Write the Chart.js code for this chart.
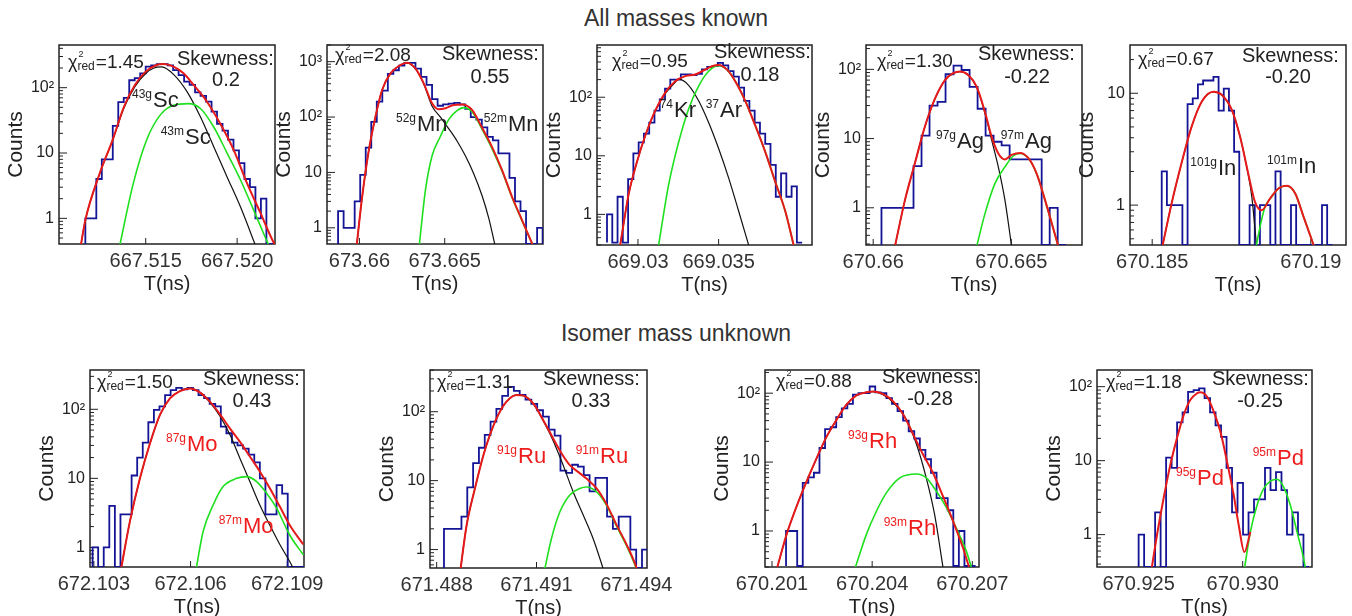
<!DOCTYPE html>
<html lang="en">
<head>
<meta charset="utf-8" />
<title>TOF spectra</title>
<script src="https://cdnjs.cloudflare.com/ajax/libs/Chart.js/4.4.0/chart.umd.js"></script>
<style>
    html, body { margin: 0; padding: 0; background: #fff; overflow: hidden; }
    body { width: 1352px; height: 616px; position: relative; font-family: "Liberation Sans", Arial, sans-serif; }
    .title { position: absolute; left: 0; width: 1352px; text-align: center; font-size: 23px; color: #333; }
    canvas { position: absolute; }
</style>
</head>
<body>
<div class="title" style="top:5px">All masses known</div>
<div class="title" style="top:320px">Isomer mass unknown</div>
<script>
    // counts per bin, fit curves read as [T, counts]
    const scCounts = [1,1,4,8,8,26,60,70,130,140,165,210,220,230,230,220,186,156,124,110,85,75,61,43,28,22,16,11,7,4,3,1,2,0,0];
    const scRed = [[667.51139,0.3],[667.5117,0.94],[667.51249,4.9],[667.51319,15.8],[667.51381,51],[667.51441,110],[667.515,176],[667.5156,222],[667.51597,230],[667.51652,210],[667.51707,166],[667.51762,110],[667.51835,61],[667.51908,28],[667.51982,11],[667.52055,3.4],[667.52128,1.2],[667.52192,0.47],[667.5221,0.38]];
    const scBlack = [[667.51139,0.3],[667.5117,0.94],[667.51249,4.9],[667.51319,15.6],[667.51381,49],[667.51441,104],[667.515,165],[667.51545,200],[667.51588,208],[667.51652,160],[667.51725,88],[667.51799,36],[667.51872,12.5],[667.51945,4.3],[667.52018,1.5],[667.52106,0.35]];
    const scGreen = [[667.5135,0.3],[667.51432,3.4],[667.51505,15.8],[667.51579,38],[667.51652,54],[667.51734,57],[667.51799,48],[667.51872,25],[667.51945,10],[667.52018,3.9],[667.52092,1.3],[667.52179,0.35]];

    const mnCounts = [2,1,1,3,9,28,82,190,300,600,700,850,950,950,750,530,380,210,160,170,175,180,170,140,100,90,65,44,38,22,22,8,3,2,0,0,1];
    const mnRed = [[673.65981,0.4],[673.66016,3.6],[673.66055,25],[673.66094,101],[673.66133,308],[673.66182,615],[673.66231,835],[673.66279,960],[673.66328,755],[673.66377,405],[673.66426,177],[673.66465,138],[673.66504,144],[673.66553,165],[673.66602,169],[673.6666,135],[673.66719,64],[673.66777,29],[673.66836,11],[673.66895,3.6],[673.66953,1.38],[673.67021,0.45]];
    const mnBlack = [[673.65981,0.4],[673.66016,3.6],[673.66055,25],[673.66094,101],[673.66133,308],[673.66182,615],[673.66231,835],[673.66279,955],[673.66328,745],[673.66377,395],[673.66426,157],[673.66475,100],[673.66523,62],[673.66572,37],[673.66621,20],[673.6667,9.5],[673.66719,3.8],[673.66758,1.5],[673.66797,0.45]];
    const mnGreen = [[673.66348,0.4],[673.66387,4.8],[673.66426,20],[673.66475,45],[673.66523,90],[673.66572,130],[673.66611,148],[673.6666,125],[673.66719,60],[673.66777,27],[673.66836,10.5],[673.66895,3.5],[673.66953,1.35],[673.67021,0.45]];

    const krCounts = [1,0,2,0,4,11,17,24,37,59,92,140,200,200,245,245,240,250,300,330,340,385,350,280,225,146,87,59,37,24,16,7,2,5,2,3,0];
    const krRed = [[669.0289,0.3],[669.02942,2.2],[669.02994,7.9],[669.03045,22],[669.03107,59],[669.03169,120],[669.03231,188],[669.03293,229],[669.03355,245],[669.03397,278],[669.03459,338],[669.035,355],[669.03552,296],[669.03603,188],[669.03665,87],[669.03727,33],[669.03789,11.7],[669.03851,3.6],[669.03913,1.14],[669.03965,0.3]];
    const krBlack = [[669.0289,0.3],[669.02942,2.2],[669.02994,7.9],[669.03045,22],[669.03107,58],[669.03169,115],[669.03231,180],[669.03252,204],[669.03314,160],[669.03376,87],[669.03438,37],[669.035,13.3],[669.03562,4.2],[669.03624,1.14],[669.03686,0.3]];
    const krGreen = [[669.03128,0.3],[669.0319,3.2],[669.03252,17],[669.03314,63],[669.03376,155],[669.03438,278],[669.035,346],[669.03552,296],[669.03603,188],[669.03665,87],[669.03727,33],[669.03789,11.7],[669.03851,3.6],[669.03913,1.14],[669.03965,0.3]];

    const agCounts = [1,1,1,1,4,11,30,34,85,113,98,56,27,11,9,8,5,5,5,5,0,1,0];
    const agRed = [[670.66079,0.28],[670.66115,1.29],[670.66151,4.4],[670.66187,14.8],[670.66224,38],[670.6626,70],[670.6629,88],[670.66314,93],[670.66344,83],[670.66375,56],[670.66405,24],[670.66429,10.6],[670.66453,6.1],[670.66477,5],[670.66501,5.8],[670.66532,6.2],[670.66562,5.2],[670.66592,3.1],[670.66622,1.3],[670.66652,0.5],[670.6667,0.28]];
    const agBlack = [[670.66079,0.28],[670.66115,1.29],[670.66151,4.4],[670.66187,14.8],[670.66224,38],[670.6626,70],[670.6629,88],[670.66314,93],[670.66344,83],[670.66375,55],[670.66405,23],[670.66429,9.5],[670.66453,3.9],[670.66477,1.29],[670.66501,0.28]];
    const agGreen = [[670.66375,0.28],[670.66405,0.83],[670.66441,2.25],[670.66477,3.9],[670.66507,5.6],[670.66532,6.1],[670.66562,5.2],[670.66592,3.1],[670.66622,1.3],[670.66652,0.5],[670.6667,0.28]];

    const inCounts = [2,1,1,1,0,8,9,12,13,13,14,7,11,7,3,0,0,1,0,1,1,0,2,0,0,1,0,0,0,0,0,1,0];
    const inRed = [[670.1853,0.4],[670.18561,1.03],[670.18593,2.4],[670.18624,5],[670.18656,8.4],[670.18693,10.3],[670.18719,9.7],[670.18751,7.1],[670.18777,4.1],[670.18803,1.9],[670.18824,1.07],[670.18845,0.9],[670.18872,1.15],[670.18898,1.41],[670.18924,1.49],[670.18951,1.27],[670.18977,0.79],[670.19014,0.4]];
    const inBlack = [[670.1853,0.4],[670.18561,1.03],[670.18593,2.4],[670.18624,5],[670.18656,8.4],[670.18693,10.3],[670.18719,9.7],[670.18751,7.1],[670.18777,4.1],[670.18803,1.85],[670.18814,1.19],[670.1883,0.4]];
    const inGreen = [[670.18826,0.4],[670.1884,0.64],[670.18856,0.97],[670.18877,1.19],[670.18898,1.41],[670.18924,1.49],[670.18951,1.27],[670.18977,0.79],[670.19014,0.4]];

    const moCounts = [1,0,1,4,0,3,3,11,20,33,65,98,110,160,190,205,195,205,190,160,145,120,110,56,45,33,30,27,22,17,10,3,3,8,6,0,0,0];
    const moRed = [[672.10383,0.45],[672.10412,2.4],[672.10443,10],[672.10474,32],[672.10505,83],[672.10536,144],[672.10567,184],[672.10598,201],[672.10629,176],[672.1066,129],[672.10691,85],[672.10722,53],[672.10753,34],[672.10784,20.7],[672.10815,12.6],[672.10846,7.2],[672.10877,3.9],[672.10908,2.1],[672.1095,1.1]];
    const moBlack = [[672.10383,0.45],[672.10412,2.4],[672.10443,10],[672.10474,32],[672.10505,83],[672.10536,144],[672.10567,184],[672.10598,201],[672.10629,175],[672.1066,126],[672.10691,80],[672.10722,43],[672.10753,19.6],[672.10784,9],[672.10815,4.1],[672.10846,2.1],[672.10877,1.1],[672.10913,0.56],[672.10922,0.45]];
    const moGreen = [[672.10616,0.45],[672.10639,1.7],[672.1067,4.1],[672.10701,7.6],[672.10743,10],[672.10774,10.6],[672.10805,9],[672.10836,6.1],[672.10867,3.7],[672.10908,1.5],[672.1095,0.78]];

    const ruCounts = [2,2,2,3,8,18,30,46,72,110,170,230,200,175,150,130,105,85,55,45,14,13,17,16,12,7,11,11,3,2,3,3,1,0,1];
    const ruRed = [[671.4887,0.45],[671.4889,2.25],[671.48915,7.7],[671.4894,23],[671.4896,46],[671.48985,90],[671.4901,140],[671.4904,175],[671.4906,171],[671.4909,132],[671.4912,76],[671.4915,41],[671.49175,25],[671.492,16.8],[671.49225,13.4],[671.4925,10.7],[671.4928,7.8],[671.4931,4.6],[671.4934,2.3],[671.4937,1.2],[671.494,0.55],[671.49405,0.45]];
    const ruBlack = [[671.4887,0.45],[671.4889,2.25],[671.48915,7.7],[671.4894,23],[671.4896,46],[671.48985,90],[671.4901,140],[671.4904,175],[671.4906,171],[671.4909,131],[671.4912,74],[671.4915,38],[671.4918,16.8],[671.4921,6.9],[671.4924,3.2],[671.4927,1.45],[671.49305,0.45]];
    const ruGreen = [[671.49122,0.45],[671.49145,1.45],[671.4917,3.5],[671.492,6.2],[671.4923,7.7],[671.4925,8.1],[671.4928,6.9],[671.4931,4.4],[671.4934,2.2],[671.4937,1.15],[671.494,0.53],[671.49405,0.45]];

    const rhCounts = [1,1,0,5,6,7,16,30,32,45,60,70,95,100,100,125,103,100,85,70,55,40,28,22,15,11,7,3,3,2,0,1,0,0];
    const rhRed = [[670.20116,0.3],[670.20144,0.9],[670.20174,2.3],[670.20204,5.3],[670.20234,11.5],[670.20264,23.6],[670.20293,41],[670.20323,68],[670.20353,93],[670.20383,103],[670.20403,106],[670.20433,97],[670.20463,76],[670.20493,49],[670.20523,25],[670.20552,13],[670.20582,7],[670.20612,3.2],[670.20642,1.4],[670.20672,0.57],[670.2069,0.3]];
    const rhBlack = [[670.20116,0.3],[670.20144,0.9],[670.20174,2.3],[670.20204,5.3],[670.20234,11.5],[670.20264,23.6],[670.20293,41],[670.20323,68],[670.20353,93],[670.20383,103],[670.20403,105],[670.20433,95],[670.20463,73],[670.20503,41],[670.20533,18],[670.20562,5.9],[670.20587,1.74],[670.20612,0.3]];
    const rhGreen = [[670.2035,0.3],[670.20383,0.9],[670.20413,1.95],[670.20443,3.6],[670.20483,5.9],[670.20533,6.7],[670.20562,5.9],[670.20592,3.8],[670.20622,2.2],[670.20652,1.1],[670.20682,0.51],[670.20697,0.3]];

    const pdCounts = [1,0,0,2,0,11,8,33,45,85,90,95,70,45,30,21,8,2,5,1,2,3,3,8,4,7,4,1,2,1,0];
    const pdRed = [[670.92559,0.3],[670.92588,0.98],[670.9262,3.1],[670.92652,8.7],[670.92684,20],[670.92716,41],[670.92748,66],[670.9278,81],[670.92796,84],[670.92829,73],[670.92861,46],[670.92893,24.5],[670.92925,9.6],[670.92957,3.4],[670.92981,1.34],[670.93008,0.58],[670.93037,1.09]];
    const pdGreen = [[670.93005,0.3],[670.93037,1.09],[670.93069,2.5],[670.93101,4.2],[670.93133,5.3],[670.93165,5.6],[670.93197,4.4],[670.93229,2.5],[670.93261,1.09],[670.93293,0.47],[670.93306,0.3]];

    // axis ticks and texts
    const xTicks = [[667.515, 667.52], [673.66, 673.665], [669.03, 669.035], [670.66, 670.665], [670.185, 670.19],
                    [672.103, 672.106, 672.109], [671.488, 671.491, 671.494], [670.201, 670.204, 670.207], [670.925, 670.93]];
    const xTickLabels = [['667.515', '667.520'], ['673.66', '673.665'], ['669.03', '669.035'], ['670.66', '670.665'], ['670.185', '670.19'],
                         ['672.103', '672.106', '672.109'], ['671.488', '671.491', '671.494'], ['670.201', '670.204', '670.207'], ['670.925', '670.930']];
    const chiValues = ['1.45', '2.08', '0.95', '1.30', '0.67', '1.50', '1.31', '0.88', '1.18'];
    const skewValues = ['0.2', '0.55', '0.18', '-0.22', '-0.20', '0.43', '0.33', '-0.28', '-0.25'];
    const isoLabels = [[['43g', 'Sc'], ['43m', 'Sc']], [['52g', 'Mn'], ['52m', 'Mn']], [['74', 'Kr'], ['37', 'Ar']],
                       [['97g', 'Ag'], ['97m', 'Ag']], [['101g', 'In'], ['101m', 'In']], [['87g', 'Mo'], ['87m', 'Mo']],
                       [['91g', 'Ru'], ['91m', 'Ru']], [['93g', 'Rh'], ['93m', 'Rh']], [['95g', 'Pd'], ['95m', 'Pd']]];

    const FONT = '"Liberation Sans", Arial, sans-serif';
    const PAD = { left: 60, top: 20, right: 45, bottom: 52 };

    // box = plot frame in page px; text positions are offsets inside the frame
    const panels = [
        { box: [59, 45, 275, 244], x: [667.51026, 667.52207], y: [0.405, 450], hist: [667.5117, 0.0003], counts: scCounts, red: scRed, black: scBlack, green: scGreen,
          chi: [9, 23], skew: [118, 20], val: [167, 41], iso: [[94, 62], [126, 99]] },
        { box: [327, 45, 543, 244], x: [673.6581, 673.67076], y: [0.51, 2000], hist: [673.65875, 0.000324], counts: mnCounts, red: mnRed, black: mnBlack, green: mnGreen,
          chi: [8, 16], skew: [115, 15], val: [163, 38], iso: [[90, 86], [181, 86]] },
        { box: [597, 45, 812, 245], x: [669.02746, 669.04079], y: [0.33, 780], hist: [669.02808, 0.000327], counts: krCounts, red: krRed, black: krBlack, green: krGreen,
          chi: [15, 22], skew: [117, 13], val: [163, 36], iso: [[77, 72], [123, 72]] },
        { box: [866, 45, 1082, 245], x: [670.65974, 670.66756], y: [0.29, 225], hist: [670.6603, 0.00029], counts: agCounts, red: agRed, black: agBlack, green: agGreen,
          chi: [11, 22], skew: [112, 15], val: [161, 38], iso: [[91, 103], [159, 103]] },
        { box: [1130, 45, 1346, 245], x: [670.1843, 670.19111], y: [0.44, 27], hist: [670.1853, 0.000163], counts: inCounts, red: inRed, black: inBlack, green: inGreen,
          chi: [8, 20], skew: [112, 17], val: [158, 38], iso: [[88, 130], [168, 128]] },
        { box: [90, 370, 304, 567], x: [672.10288, 672.10952], y: [0.52, 371], hist: [672.10296, 0.000173], counts: moCounts, red: moRed, black: moBlack, green: moGreen,
          chi: [7, 18], skew: [113, 15], val: [162, 37], iso: [[97, 81], [153, 163]] },
        { box: [430, 370, 647, 568], x: [671.4878, 671.49432], y: [0.54, 403], hist: [671.48822, 0.000175], counts: ruCounts, red: ruRed, black: ruBlack, green: ruGreen,
          chi: [7, 18], skew: [113, 15], val: [161, 37], iso: [[88, 93], [170, 93]] },
        { box: [765, 370, 979, 567], x: [670.20079, 670.2072], y: [0.31, 217], hist: [670.20142, 0.000167], counts: rhCounts, red: rhRed, black: rhBlack, green: rhGreen,
          chi: [11, 17], skew: [117, 13], val: [165, 35], iso: [[104, 78], [143, 165]] },
        { box: [1097, 370, 1312, 567], x: [670.923, 670.93333], y: [0.365, 168], hist: [670.925, 0.000264], counts: pdCounts, red: pdRed, black: null, green: pdGreen,
          chi: [9, 18], skew: [115, 15], val: [163, 37], iso: [[100, 115], [180, 95]] }
    ];

    function xy(pairs) {
        return pairs.map(p => ({ x: p[0], y: p[1] }));
    }

    // step outline of the histogram; empty bins sit on the axis floor
    function histPoints(start, width, counts, floor) {
        const pts = [{ x: start, y: floor }];
        counts.forEach((c, i) => pts.push({ x: start + i * width, y: c > 0 ? c : floor }));
        pts.push({ x: start + counts.length * width, y: floor });
        return pts;
    }

    function curve(data, color, width) {
        return { data: xy(data), borderColor: color, borderWidth: width, pointRadius: 0,
                 cubicInterpolationMode: 'monotone', fill: false, clip: 0 };
    }

    function decades(range) {
        const out = [];
        for (let e = -1; e <= 4; e++) {
            const v = Math.pow(10, e);
            if (v >= range[0] && v <= range[1]) out.push(v);
        }
        return out;
    }

    const yNames = { 1: '1', 10: '10', 100: '10\u00b2', 1000: '10\u00b3' };

    panels.forEach((p, n) => {
        const [l, t, r, b] = p.box;
        const canvas = document.createElement('canvas');
        canvas.width = r - l + PAD.left + PAD.right;
        canvas.height = b - t + PAD.top + PAD.bottom;
        canvas.style.left = (l - PAD.left) + 'px';
        canvas.style.top = (t - PAD.top) + 'px';
        document.body.appendChild(canvas);

        const isoColor = n < 5 ? '#222' : '#ee1c1c';
        const datasets = [curve(p.red, '#e61a1a', 2)];
        datasets.push(curve(p.green, '#1ee01e', 1.6));
        if (p.black) datasets.push(curve(p.black, '#111', 1.2));
        datasets.push({
            data: histPoints(p.hist[0], p.hist[1], p.counts, p.y[0]),
            stepped: 'before', borderColor: '#141496', borderWidth: 1.8, pointRadius: 0, fill: false, clip: 0
        });

        const deco = {
            id: 'deco' + n,
            beforeDatasetsDraw(chart) {
                const { ctx, chartArea: a, scales: { x, y } } = chart;
                ctx.save();
                ctx.strokeStyle = '#222';
                ctx.lineWidth = 1.5;
                ctx.strokeRect(a.left, a.top, a.right - a.left, a.bottom - a.top);
                ctx.lineWidth = 1;
                ctx.beginPath();
                xTicks[n].forEach(v => {
                    const px = x.getPixelForValue(v);
                    ctx.moveTo(px, a.bottom);
                    ctx.lineTo(px, a.bottom - 6);
                });
                for (let d = 0.1; d <= y.max; d *= 10) {
                    for (let k = 1; k < 10; k++) {
                        const v = k * d;
                        if (v < y.min || v > y.max) continue;
                        const py = y.getPixelForValue(v);
                        ctx.moveTo(a.left, py);
                        ctx.lineTo(a.left + (k === 1 ? 8 : 4), py);
                    }
                }
                ctx.stroke();
                ctx.restore();
            },
            afterDraw(chart) {
                const { ctx, chartArea: a } = chart;
                ctx.save();
                ctx.fillStyle = '#222';
                ctx.textBaseline = 'alphabetic';
                ctx.textAlign = 'left';

                // chi^2_red
                const cx = a.left + p.chi[0], cy = a.top + p.chi[1];
                ctx.font = '18px ' + FONT;
                ctx.fillText('\u03c7', cx, cy);
                let w = ctx.measureText('\u03c7').width;
                ctx.font = '9px ' + FONT;
                ctx.fillText('2', cx + w + 1, cy - 11);
                ctx.font = '12px ' + FONT;
                ctx.fillText('red', cx + w, cy + 2);
                w += ctx.measureText('red').width;
                ctx.font = '19px ' + FONT;
                ctx.fillText('=' + chiValues[n], cx + w + 1, cy);

                // skewness
                ctx.font = '20px ' + FONT;
                ctx.fillText('Skewness:', a.left + p.skew[0], a.top + p.skew[1]);
                ctx.textAlign = 'center';
                ctx.fillText(skewValues[n], a.left + p.val[0], a.top + p.val[1]);

                // isotope names
                ctx.fillStyle = isoColor;
                isoLabels[n].forEach((lab, i) => {
                    const ix = a.left + p.iso[i][0], iy = a.top + p.iso[i][1];
                    ctx.textAlign = 'left';
                    ctx.font = '22px ' + FONT;
                    ctx.fillText(lab[1], ix, iy);
                    ctx.textAlign = 'right';
                    ctx.font = '12px ' + FONT;
                    ctx.fillText(lab[0], ix - 1, iy - 9);
                });

                // axis titles
                ctx.fillStyle = '#222';
                ctx.textAlign = 'center';
                ctx.textBaseline = 'middle';
                ctx.font = '20px ' + FONT;
                ctx.fillText('T(ns)', (a.left + a.right) / 2, a.bottom + 40);
                ctx.translate(a.left - 43, (a.top + a.bottom) / 2);
                ctx.rotate(-Math.PI / 2);
                ctx.font = '21px ' + FONT;
                ctx.fillText('Counts', 0, 0);
                ctx.restore();
            }
        };

        new Chart(canvas.getContext('2d'), {
            type: 'line',
            data: { datasets: datasets },
            options: {
                responsive: false,
                animation: false,
                devicePixelRatio: 1,
                layout: { padding: { left: 0, top: PAD.top, right: PAD.right, bottom: 0 } },
                plugins: { legend: { display: false }, tooltip: { enabled: false } },
                scales: {
                    x: {
                        type: 'linear', min: p.x[0], max: p.x[1],
                        afterBuildTicks: s => { s.ticks = xTicks[n].map(v => ({ value: v })); },
                        afterFit: s => { s.height = PAD.bottom; },
                        grid: { display: false, drawTicks: false },
                        border: { display: false },
                        ticks: { autoSkip: false, maxRotation: 0, padding: 5, color: '#333',
                                 font: { family: FONT, size: 20 },
                                 callback: (v, i) => xTickLabels[n][i] }
                    },
                    y: {
                        type: 'logarithmic', min: p.y[0], max: p.y[1],
                        afterBuildTicks: s => { s.ticks = decades(p.y).map(v => ({ value: v })); },
                        afterFit: s => { s.width = PAD.left; },
                        grid: { display: false, drawTicks: false },
                        border: { display: false },
                        ticks: { autoSkip: false, padding: 5, color: '#222',
                                 font: { family: FONT, size: 16 },
                                 callback: v => yNames[v] }
                    }
                }
            },
            plugins: [deco]
        });
    });
</script>
</body>
</html>
